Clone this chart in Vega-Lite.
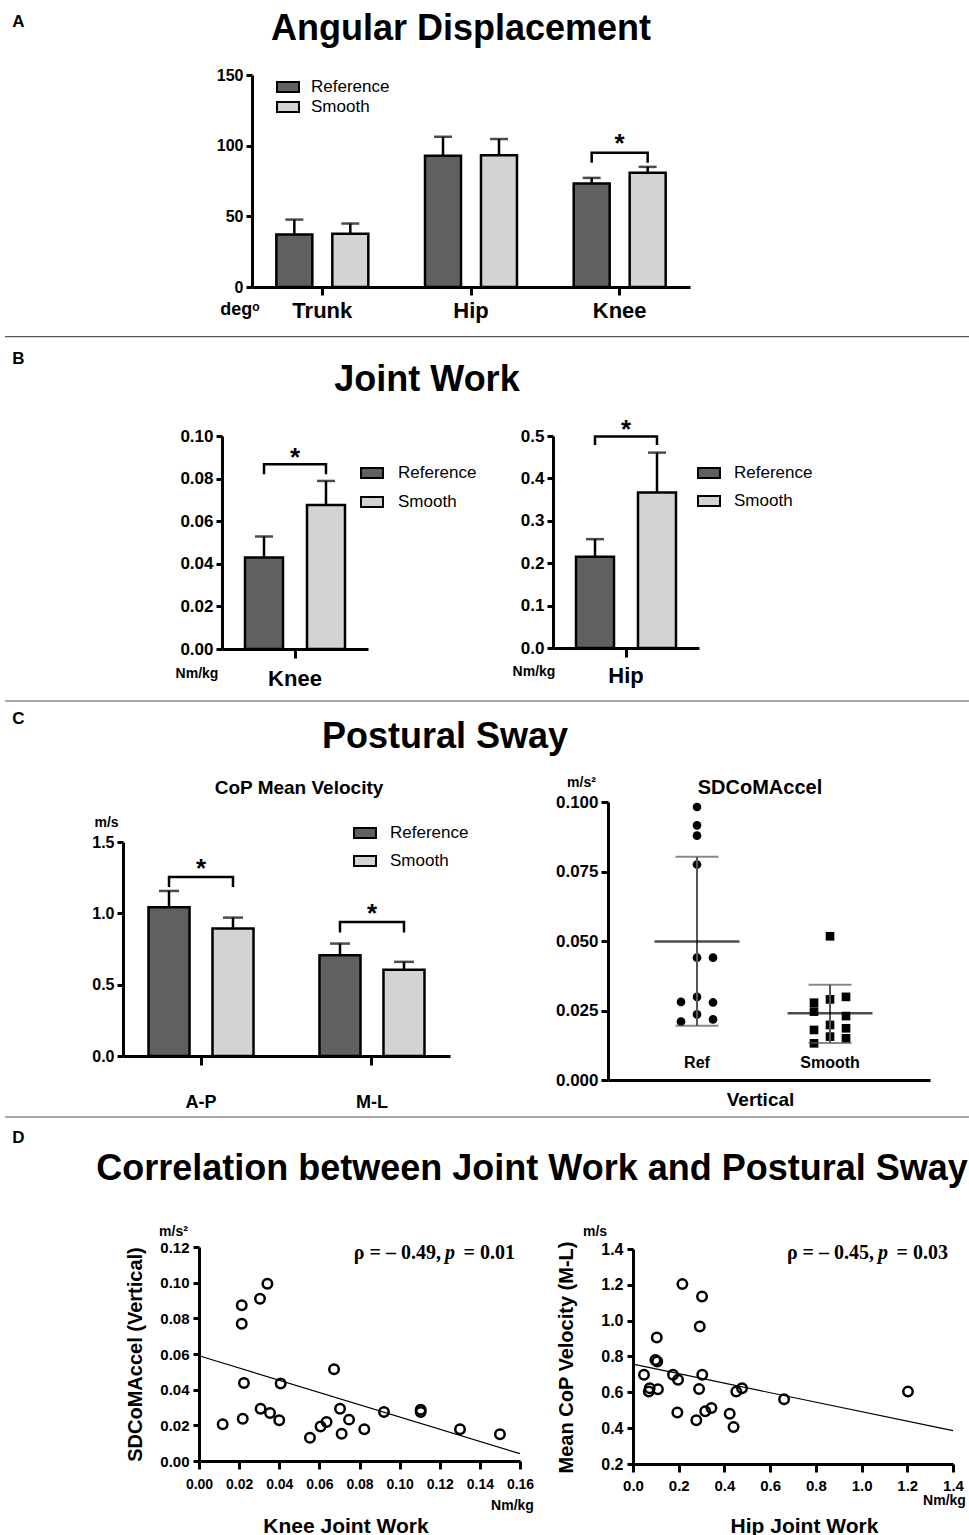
{
 "$schema": "https://vega.github.io/schema/vega-lite/v6.json",
 "background": "white",
 "padding": 0,
 "columns": 2,
 "bounds": "flush",
 "spacing": {"row": 0, "column": 0},
 "resolve": {"scale": {"fill": "independent", "shape": "independent", "xOffset": "independent"}},
 "config": {
  "font": "Liberation Sans",
  "view": {"stroke": null},
  "axis": {"grid": false, "domainColor": "black", "domainWidth": 3, "tickColor": "black", "tickWidth": 3, "tickSize": 6, "labelColor": "black", "labelFont": "Liberation Sans", "labelFontWeight": "bold", "titleColor": "black", "titleFont": "Liberation Sans", "titleFontWeight": "bold", "labelOverlap": false, "labelFlush": false},
  "legend": {"labelFont": "Liberation Sans", "labelFontSize": 17, "labelColor": "black", "padding": 0},
  "text": {"font": "Liberation Sans", "color": "black"}
 },
 "concat": [
  {"width": 540, "height": 75, "data": {"values": [{"letter": "A", "title": "Angular Displacement"}]},
   "layer": [
    {"mark": {"type": "text", "fontSize": 17, "fontWeight": "bold"}, "encoding": {"text": {"field": "letter"}, "x": {"datum": 0.03426, "type": "quantitative", "scale": {"domain": [0, 1]}, "axis": null}, "y": {"datum": 0.293, "type": "quantitative", "scale": {"domain": [0, 1], "reverse": true}, "axis": null}}},
    {"mark": {"type": "text", "fontSize": 36, "fontWeight": "bold"}, "encoding": {"text": {"field": "title"}, "x": {"datum": 0.8537, "type": "quantitative", "scale": {"domain": [0, 1]}, "axis": null}, "y": {"datum": 0.38, "type": "quantitative", "scale": {"domain": [0, 1], "reverse": true}, "axis": null}}}
   ]},
  {"width": 1, "height": 1, "data": {"values": []}, "mark": "point"},

  {"width": 540, "height": 212,
   "layer": [
    {"data": {"values": [
      {"joint": "Trunk", "condition": "Reference", "mean": 37.1, "upper": 47.7},
      {"joint": "Trunk", "condition": "Smooth", "mean": 37.6, "upper": 44.9},
      {"joint": "Hip", "condition": "Reference", "mean": 92.8, "upper": 106.3},
      {"joint": "Hip", "condition": "Smooth", "mean": 93.3, "upper": 104.7},
      {"joint": "Knee", "condition": "Reference", "mean": 73.2, "upper": 77.2},
      {"joint": "Knee", "condition": "Smooth", "mean": 80.8, "upper": 85.0}
     ]},
     "encoding": {
      "x": {"field": "joint", "type": "nominal", "scale": {"domain": ["Trunk", "Hip", "Knee"], "range": [252, 690], "paddingInner": 0.247, "paddingOuter": 0.0965}, "axis": {"title": null, "labelAngle": 0, "labelFontSize": 22, "labelBaseline": "middle", "labelPadding": 15, "tickSize": 8}},
      "xOffset": {"field": "condition", "type": "nominal", "scale": {"domain": ["Reference", "Smooth"], "paddingInner": 0.357, "paddingOuter": 0.1785}}
     },
     "layer": [
      {"mark": {"type": "bar", "stroke": "black", "strokeWidth": 2.5},
       "encoding": {
        "y": {"field": "mean", "type": "quantitative", "scale": {"domain": [0, 150], "nice": false}, "axis": {"offset": -252, "values": [0, 50, 100, 150], "labelFontSize": 16, "labelPadding": 3, "title": "degᵒ", "titleAngle": 0, "titleFontSize": 18, "titleX": -12.5, "titleY": 234, "titleAlign": "center", "titleBaseline": "middle"}},
        "fill": {"field": "condition", "type": "nominal", "scale": {"domain": ["Reference", "Smooth"], "range": ["#606060", "#d3d3d3"]}, "legend": {"title": null, "orient": "none", "legendX": 277, "legendY": 1, "symbolType": "M-1.1,-0.5H1.1V0.5H-1.1Z", "symbolSize": 400, "symbolStrokeColor": "black", "symbolStrokeWidth": 2, "labelOffset": 12, "rowPadding": 0, "labelFontSize": 17}}
       }},
      {"mark": {"type": "rule", "color": "black", "strokeWidth": 2.5}, "encoding": {"y": {"field": "mean", "type": "quantitative"}, "y2": {"field": "upper"}}},
      {"mark": {"type": "tick", "orient": "horizontal", "color": "black", "size": 18, "thickness": 2.5}, "encoding": {"y": {"field": "upper", "type": "quantitative"}}}
     ]},
    {"data": {"values": [
      {"joint": "Knee", "condition": "Reference", "y": 88, "o": 1},
      {"joint": "Knee", "condition": "Reference", "y": 95, "o": 2},
      {"joint": "Knee", "condition": "Smooth", "y": 95, "o": 3},
      {"joint": "Knee", "condition": "Smooth", "y": 88, "o": 4}
     ]},
     "mark": {"type": "line", "color": "black", "strokeWidth": 2.5},
     "encoding": {"x": {"field": "joint", "type": "nominal"}, "xOffset": {"field": "condition", "type": "nominal"}, "y": {"field": "y", "type": "quantitative"}, "order": {"field": "o"}}},
    {"data": {"values": [{"joint": "Knee", "sig": "*", "y": 101.4}]},
     "mark": {"type": "text", "fontSize": 26, "fontWeight": "bold"},
     "encoding": {"x": {"field": "joint", "type": "nominal"}, "y": {"field": "y", "type": "quantitative"}, "text": {"field": "sig"}}}
   ]},
  {"width": 1, "height": 1, "data": {"values": []}, "mark": "point"},

  {"width": 540, "height": 149, "data": {"values": [{"letter": "B", "title": "Joint Work"}]},
   "layer": [
    {"mark": {"type": "rule", "color": "#555555", "strokeWidth": 1.2}, "encoding": {"x": {"datum": 0.00926, "type": "quantitative", "scale": {"domain": [0, 1]}, "axis": null}, "x2": {"datum": 1.7944}, "y": {"datum": 0.3336, "type": "quantitative", "scale": {"domain": [0, 1], "reverse": true}, "axis": null}}},
    {"mark": {"type": "text", "fontSize": 17, "fontWeight": "bold"}, "encoding": {"text": {"field": "letter"}, "x": {"datum": 0.03426, "type": "quantitative", "scale": {"domain": [0, 1]}, "axis": null}, "y": {"datum": 0.48, "type": "quantitative", "scale": {"domain": [0, 1], "reverse": true}, "axis": null}}},
    {"mark": {"type": "text", "fontSize": 36, "fontWeight": "bold"}, "encoding": {"text": {"field": "title"}, "x": {"datum": 0.7907, "type": "quantitative", "scale": {"domain": [0, 1]}, "axis": null}, "y": {"datum": 0.624, "type": "quantitative", "scale": {"domain": [0, 1], "reverse": true}, "axis": null}}}
   ]},
  {"width": 1, "height": 1, "data": {"values": []}, "mark": "point"},

  {"width": 540, "height": 213,
   "layer": [
    {"data": {"values": [
      {"joint": "Knee", "condition": "Reference", "mean": 0.043, "upper": 0.0528},
      {"joint": "Knee", "condition": "Smooth", "mean": 0.0676, "upper": 0.0789}
     ]},
     "encoding": {
      "x": {"field": "joint", "type": "nominal", "scale": {"domain": ["Knee"], "range": [222, 368], "paddingInner": 0, "paddingOuter": 0}, "axis": {"title": null, "labelAngle": 0, "labelFontSize": 22, "labelBaseline": "middle", "labelPadding": 20, "tickSize": 9}},
      "xOffset": {"field": "condition", "type": "nominal", "scale": {"domain": ["Reference", "Smooth"], "paddingInner": 0.387, "paddingOuter": 0.371}}
     },
     "layer": [
      {"mark": {"type": "bar", "stroke": "black", "strokeWidth": 2.5},
       "encoding": {
        "y": {"field": "mean", "type": "quantitative", "scale": {"domain": [0, 0.1], "nice": false}, "axis": {"offset": -222, "values": [0, 0.02, 0.04, 0.06, 0.08, 0.1], "format": ".2f", "labelFontSize": 17, "labelPadding": 3, "title": "Nm/kg", "titleAngle": 0, "titleFontSize": 14, "titleX": -25.5, "titleY": 237, "titleAlign": "center", "titleBaseline": "middle"}},
        "fill": {"field": "condition", "type": "nominal", "scale": {"domain": ["Reference", "Smooth"], "range": ["#606060", "#d3d3d3"]}, "legend": {"title": null, "orient": "none", "legendX": 361, "legendY": 26, "symbolType": "M-1.1,-0.5H1.1V0.5H-1.1Z", "symbolSize": 400, "symbolStrokeColor": "black", "symbolStrokeWidth": 2, "labelOffset": 15, "rowPadding": 9, "labelFontSize": 17}}
       }},
      {"mark": {"type": "rule", "color": "black", "strokeWidth": 2.5}, "encoding": {"y": {"field": "mean", "type": "quantitative"}, "y2": {"field": "upper"}}},
      {"mark": {"type": "tick", "orient": "horizontal", "color": "black", "size": 18, "thickness": 2.5}, "encoding": {"y": {"field": "upper", "type": "quantitative"}}}
     ]},
    {"data": {"values": [
      {"joint": "Knee", "condition": "Reference", "y": 0.082, "o": 1},
      {"joint": "Knee", "condition": "Reference", "y": 0.0867, "o": 2},
      {"joint": "Knee", "condition": "Smooth", "y": 0.0867, "o": 3},
      {"joint": "Knee", "condition": "Smooth", "y": 0.082, "o": 4}
     ]},
     "mark": {"type": "line", "color": "black", "strokeWidth": 2.5},
     "encoding": {"x": {"field": "joint", "type": "nominal"}, "xOffset": {"field": "condition", "type": "nominal"}, "y": {"field": "y", "type": "quantitative"}, "order": {"field": "o"}}},
    {"data": {"values": [{"joint": "Knee", "sig": "*", "y": 0.0898}]},
     "mark": {"type": "text", "fontSize": 26, "fontWeight": "bold"},
     "encoding": {"x": {"field": "joint", "type": "nominal"}, "y": {"field": "y", "type": "quantitative"}, "text": {"field": "sig"}}}
   ]},
  {"width": 424, "height": 212,
   "layer": [
    {"data": {"values": [
      {"joint": "Hip", "condition": "Reference", "mean": 0.215, "upper": 0.2567},
      {"joint": "Hip", "condition": "Smooth", "mean": 0.367, "upper": 0.4608}
     ]},
     "encoding": {
      "x": {"field": "joint", "type": "nominal", "scale": {"domain": ["Hip"], "range": [13, 159], "paddingInner": 0, "paddingOuter": 0}, "axis": {"title": null, "labelAngle": 0, "labelFontSize": 22, "labelBaseline": "middle", "labelPadding": 18, "tickSize": 9}},
      "xOffset": {"field": "condition", "type": "nominal", "scale": {"domain": ["Reference", "Smooth"], "paddingInner": 0.387, "paddingOuter": 0.371}}
     },
     "layer": [
      {"mark": {"type": "bar", "stroke": "black", "strokeWidth": 2.5},
       "encoding": {
        "y": {"field": "mean", "type": "quantitative", "scale": {"domain": [0, 0.5], "nice": false}, "axis": {"offset": -13, "values": [0, 0.1, 0.2, 0.3, 0.4, 0.5], "format": ".1f", "labelFontSize": 17, "labelPadding": 3, "title": "Nm/kg", "titleAngle": 0, "titleFontSize": 14, "titleX": -19.5, "titleY": 235, "titleAlign": "center", "titleBaseline": "middle"}},
        "fill": {"field": "condition", "type": "nominal", "scale": {"domain": ["Reference", "Smooth"], "range": ["#606060", "#d3d3d3"]}, "legend": {"title": null, "orient": "none", "legendX": 158, "legendY": 26, "symbolType": "M-1.1,-0.5H1.1V0.5H-1.1Z", "symbolSize": 400, "symbolStrokeColor": "black", "symbolStrokeWidth": 2, "labelOffset": 14, "rowPadding": 8, "labelFontSize": 17}}
       }},
      {"mark": {"type": "rule", "color": "black", "strokeWidth": 2.5}, "encoding": {"y": {"field": "mean", "type": "quantitative"}, "y2": {"field": "upper"}}},
      {"mark": {"type": "tick", "orient": "horizontal", "color": "black", "size": 18, "thickness": 2.5}, "encoding": {"y": {"field": "upper", "type": "quantitative"}}}
     ]},
    {"data": {"values": [
      {"joint": "Hip", "condition": "Reference", "y": 0.479, "o": 1},
      {"joint": "Hip", "condition": "Reference", "y": 0.499, "o": 2},
      {"joint": "Hip", "condition": "Smooth", "y": 0.499, "o": 3},
      {"joint": "Hip", "condition": "Smooth", "y": 0.479, "o": 4}
     ]},
     "mark": {"type": "line", "color": "black", "strokeWidth": 2.5},
     "encoding": {"x": {"field": "joint", "type": "nominal"}, "xOffset": {"field": "condition", "type": "nominal"}, "y": {"field": "y", "type": "quantitative"}, "order": {"field": "o"}}},
    {"data": {"values": [{"joint": "Hip", "sig": "*", "y": 0.5149}]},
     "mark": {"type": "text", "fontSize": 26, "fontWeight": "bold"},
     "encoding": {"x": {"field": "joint", "type": "nominal"}, "y": {"field": "y", "type": "quantitative"}, "text": {"field": "sig"}}}
   ]},

  {"width": 540, "height": 153, "data": {"values": [{"letter": "C", "title": "Postural Sway", "sub1": "CoP Mean Velocity", "sub2": "SDCoMAccel"}]},
   "layer": [
    {"mark": {"type": "rule", "color": "#555555", "strokeWidth": 1.2}, "encoding": {"x": {"datum": 0.00926, "type": "quantitative", "scale": {"domain": [0, 1]}, "axis": null}, "x2": {"datum": 1.7944}, "y": {"datum": 0.3399, "type": "quantitative", "scale": {"domain": [0, 1], "reverse": true}, "axis": null}}},
    {"mark": {"type": "text", "fontSize": 17, "fontWeight": "bold"}, "encoding": {"text": {"field": "letter"}, "x": {"datum": 0.03426, "type": "quantitative", "scale": {"domain": [0, 1]}, "axis": null}, "y": {"datum": 0.4575, "type": "quantitative", "scale": {"domain": [0, 1], "reverse": true}, "axis": null}}},
    {"mark": {"type": "text", "fontSize": 36, "fontWeight": "bold"}, "encoding": {"text": {"field": "title"}, "x": {"datum": 0.8241, "type": "quantitative", "scale": {"domain": [0, 1]}, "axis": null}, "y": {"datum": 0.575, "type": "quantitative", "scale": {"domain": [0, 1], "reverse": true}, "axis": null}}},
    {"mark": {"type": "text", "fontSize": 19, "fontWeight": "bold"}, "encoding": {"text": {"field": "sub1"}, "x": {"datum": 0.5537, "type": "quantitative", "scale": {"domain": [0, 1]}, "axis": null}, "y": {"datum": 0.9085, "type": "quantitative", "scale": {"domain": [0, 1], "reverse": true}, "axis": null}}},
    {"mark": {"type": "text", "fontSize": 20, "fontWeight": "bold"}, "encoding": {"text": {"field": "sub2"}, "x": {"datum": 1.4074, "type": "quantitative", "scale": {"domain": [0, 1]}, "axis": null}, "y": {"datum": 0.9085, "type": "quantitative", "scale": {"domain": [0, 1], "reverse": true}, "axis": null}}}
   ]},
  {"width": 1, "height": 1, "data": {"values": []}, "mark": "point"},

  {"width": 540, "height": 254,
   "layer": [
    {"data": {"values": [
      {"dir": "A-P", "condition": "Reference", "mean": 1.043, "upper": 1.157},
      {"dir": "A-P", "condition": "Smooth", "mean": 0.893, "upper": 0.97},
      {"dir": "M-L", "condition": "Reference", "mean": 0.707, "upper": 0.788},
      {"dir": "M-L", "condition": "Smooth", "mean": 0.604, "upper": 0.66}
     ]},
     "encoding": {
      "x": {"field": "dir", "type": "nominal", "scale": {"domain": ["A-P", "M-L"], "range": [123, 450], "paddingInner": 0.2515, "paddingOuter": 0.082}, "axis": {"title": null, "labelAngle": 0, "labelFontSize": 18, "labelBaseline": "middle", "labelPadding": 37, "tickSize": 9}},
      "xOffset": {"field": "condition", "type": "nominal", "scale": {"domain": ["Reference", "Smooth"], "paddingInner": 0.359, "paddingOuter": 0.1795}}
     },
     "layer": [
      {"mark": {"type": "bar", "stroke": "black", "strokeWidth": 2.5},
       "encoding": {
        "y": {"field": "mean", "type": "quantitative", "scale": {"domain": [0, 1.5], "range": [254, 40], "nice": false}, "axis": {"offset": -123, "values": [0, 0.5, 1, 1.5], "format": ".1f", "labelFontSize": 16, "labelPadding": 3, "title": "m/s", "titleAngle": 0, "titleFontSize": 14, "titleX": -17, "titleY": 20.5, "titleAlign": "center", "titleBaseline": "middle"}},
        "fill": {"field": "condition", "type": "nominal", "scale": {"domain": ["Reference", "Smooth"], "range": ["#606060", "#d3d3d3"]}, "legend": {"title": null, "orient": "none", "legendX": 354, "legendY": 20, "symbolType": "M-1.1,-0.5H1.1V0.5H-1.1Z", "symbolSize": 400, "symbolStrokeColor": "black", "symbolStrokeWidth": 2, "labelOffset": 14, "rowPadding": 8, "labelFontSize": 17}}
       }},
      {"mark": {"type": "rule", "color": "black", "strokeWidth": 2.5}, "encoding": {"y": {"field": "mean", "type": "quantitative"}, "y2": {"field": "upper"}}},
      {"mark": {"type": "tick", "orient": "horizontal", "color": "black", "size": 20, "thickness": 2.5}, "encoding": {"y": {"field": "upper", "type": "quantitative"}}}
     ]},
    {"data": {"values": [
      {"dir": "A-P", "condition": "Reference", "y": 1.185, "o": 1},
      {"dir": "A-P", "condition": "Reference", "y": 1.255, "o": 2},
      {"dir": "A-P", "condition": "Smooth", "y": 1.255, "o": 3},
      {"dir": "A-P", "condition": "Smooth", "y": 1.185, "o": 4},
      {"dir": "M-L", "condition": "Reference", "y": 0.865, "o": 1},
      {"dir": "M-L", "condition": "Reference", "y": 0.94, "o": 2},
      {"dir": "M-L", "condition": "Smooth", "y": 0.94, "o": 3},
      {"dir": "M-L", "condition": "Smooth", "y": 0.865, "o": 4}
     ]},
     "mark": {"type": "line", "color": "black", "strokeWidth": 2.5},
     "encoding": {"x": {"field": "dir", "type": "nominal"}, "xOffset": {"field": "condition", "type": "nominal"}, "y": {"field": "y", "type": "quantitative"}, "detail": {"field": "dir"}, "order": {"field": "o"}}},
    {"data": {"values": [{"dir": "A-P", "sig": "*", "y": 1.311}, {"dir": "M-L", "sig": "*", "y": 0.995}]},
     "mark": {"type": "text", "fontSize": 26, "fontWeight": "bold"},
     "encoding": {"x": {"field": "dir", "type": "nominal"}, "y": {"field": "y", "type": "quantitative"}, "text": {"field": "sig"}}}
   ]},
  {"width": 424, "height": 278,
   "layer": [
    {"data": {"values": [
      {"group": "Ref", "col": -1, "value": 0.0281}, {"group": "Ref", "col": -1, "value": 0.021},
      {"group": "Ref", "col": 0, "value": 0.0982}, {"group": "Ref", "col": 0, "value": 0.0916},
      {"group": "Ref", "col": 0, "value": 0.0879}, {"group": "Ref", "col": 0, "value": 0.0775},
      {"group": "Ref", "col": 0, "value": 0.044}, {"group": "Ref", "col": 0, "value": 0.0299},
      {"group": "Ref", "col": 0, "value": 0.0236}, {"group": "Ref", "col": 1, "value": 0.044},
      {"group": "Ref", "col": 1, "value": 0.0279}, {"group": "Ref", "col": 1, "value": 0.0218},
      {"group": "Smooth", "col": -1, "value": 0.0278}, {"group": "Smooth", "col": -1, "value": 0.0246},
      {"group": "Smooth", "col": -1, "value": 0.018}, {"group": "Smooth", "col": -1, "value": 0.0132},
      {"group": "Smooth", "col": 0, "value": 0.0517}, {"group": "Smooth", "col": 0, "value": 0.029},
      {"group": "Smooth", "col": 0, "value": 0.0198}, {"group": "Smooth", "col": 0, "value": 0.0156},
      {"group": "Smooth", "col": 1, "value": 0.0299}, {"group": "Smooth", "col": 1, "value": 0.023},
      {"group": "Smooth", "col": 1, "value": 0.0186}, {"group": "Smooth", "col": 1, "value": 0.015}
     ]},
     "mark": {"type": "point", "filled": true, "color": "black", "opacity": 1, "size": 75},
     "encoding": {
      "x": {"field": "group", "type": "nominal", "scale": {"domain": ["Ref", "Smooth"], "range": [68, 390], "paddingInner": 0, "paddingOuter": 0.2105, "align": 0.402}, "axis": {"title": "Vertical", "ticks": false, "labelAngle": 0, "labelFontSize": 16, "labelBaseline": "middle", "labelPadding": -18, "titleFontSize": 19, "titleX": 220, "titleY": 19, "titleAlign": "center", "titleBaseline": "middle"}},
      "xOffset": {"field": "col", "type": "ordinal", "scale": {"type": "point", "domain": [-1, 0, 1], "range": [50.5, 82.5], "padding": 0}},
      "y": {"field": "value", "type": "quantitative", "scale": {"domain": [0, 0.1], "nice": false}, "axis": {"offset": -68, "values": [0, 0.025, 0.05, 0.075, 0.1], "format": ".3f", "labelFontSize": 17, "tickSize": 7, "labelPadding": 3, "title": "m/s²", "titleAngle": 0, "titleFontSize": 14, "titleX": -27, "titleY": -20, "titleAlign": "center", "titleBaseline": "middle"}},
      "shape": {"field": "group", "type": "nominal", "scale": {"domain": ["Ref", "Smooth"], "range": ["circle", "square"]}, "legend": null}
     }},
    {"data": {"values": [
      {"group": "Ref", "mean": 0.0498, "lo": 0.0195, "hi": 0.0803},
      {"group": "Smooth", "mean": 0.024, "lo": 0.0133, "hi": 0.0343}
     ]},
     "layer": [
      {"mark": {"type": "rule", "color": "#555555", "strokeWidth": 2}, "encoding": {"x": {"field": "group", "type": "nominal"}, "y": {"field": "lo", "type": "quantitative"}, "y2": {"field": "hi"}}},
      {"mark": {"type": "tick", "orient": "horizontal", "color": "#555555", "size": 43, "thickness": 2}, "encoding": {"x": {"field": "group", "type": "nominal"}, "y": {"field": "lo", "type": "quantitative"}}},
      {"mark": {"type": "tick", "orient": "horizontal", "color": "#555555", "size": 43, "thickness": 2}, "encoding": {"x": {"field": "group", "type": "nominal"}, "y": {"field": "hi", "type": "quantitative"}}},
      {"mark": {"type": "tick", "orient": "horizontal", "color": "black", "size": 85, "thickness": 2.5}, "encoding": {"x": {"field": "group", "type": "nominal"}, "y": {"field": "mean", "type": "quantitative"}}}
     ]}
   ]},

  {"width": 540, "height": 167, "data": {"values": [{"letter": "D", "title": "Correlation between Joint Work and Postural Sway"}]},
   "layer": [
    {"mark": {"type": "rule", "color": "#555555", "strokeWidth": 1.2}, "encoding": {"x": {"datum": 0.00926, "type": "quantitative", "scale": {"domain": [0, 1]}, "axis": null}, "x2": {"datum": 1.7944}, "y": {"datum": 0.2216, "type": "quantitative", "scale": {"domain": [0, 1], "reverse": true}, "axis": null}}},
    {"mark": {"type": "text", "fontSize": 17, "fontWeight": "bold"}, "encoding": {"text": {"field": "letter"}, "x": {"datum": 0.03426, "type": "quantitative", "scale": {"domain": [0, 1]}, "axis": null}, "y": {"datum": 0.347, "type": "quantitative", "scale": {"domain": [0, 1], "reverse": true}, "axis": null}}},
    {"mark": {"type": "text", "fontSize": 36, "fontWeight": "bold"}, "encoding": {"text": {"field": "title"}, "x": {"datum": 0.9852, "type": "quantitative", "scale": {"domain": [0, 1]}, "axis": null}, "y": {"datum": 0.533, "type": "quantitative", "scale": {"domain": [0, 1], "reverse": true}, "axis": null}}}
   ]},
  {"width": 1, "height": 1, "data": {"values": []}, "mark": "point"},

  {"width": 540, "height": 214,
   "resolve": {"axis": {"x": "independent", "y": "independent"}},
   "layer": [
    {"data": {"values": [
      {"kneeWork": 0.0118, "sdcomaccel": 0.0206}, {"kneeWork": 0.0213, "sdcomaccel": 0.0873},
      {"kneeWork": 0.0213, "sdcomaccel": 0.077}, {"kneeWork": 0.0304, "sdcomaccel": 0.091},
      {"kneeWork": 0.0341, "sdcomaccel": 0.0994}, {"kneeWork": 0.0224, "sdcomaccel": 0.0437},
      {"kneeWork": 0.0218, "sdcomaccel": 0.0237}, {"kneeWork": 0.0307, "sdcomaccel": 0.0293},
      {"kneeWork": 0.0354, "sdcomaccel": 0.0269}, {"kneeWork": 0.0407, "sdcomaccel": 0.0434},
      {"kneeWork": 0.04, "sdcomaccel": 0.0228}, {"kneeWork": 0.0553, "sdcomaccel": 0.0131},
      {"kneeWork": 0.0606, "sdcomaccel": 0.0194}, {"kneeWork": 0.0636, "sdcomaccel": 0.0219},
      {"kneeWork": 0.0673, "sdcomaccel": 0.0514}, {"kneeWork": 0.0703, "sdcomaccel": 0.0293},
      {"kneeWork": 0.0711, "sdcomaccel": 0.0153}, {"kneeWork": 0.0748, "sdcomaccel": 0.0232},
      {"kneeWork": 0.0824, "sdcomaccel": 0.0178}, {"kneeWork": 0.0922, "sdcomaccel": 0.0275},
      {"kneeWork": 0.1105, "sdcomaccel": 0.0288}, {"kneeWork": 0.1105, "sdcomaccel": 0.0275},
      {"kneeWork": 0.1301, "sdcomaccel": 0.0178}, {"kneeWork": 0.15, "sdcomaccel": 0.015}
     ]},
     "mark": {"type": "point", "filled": false, "color": "black", "strokeWidth": 2.5, "size": 90, "opacity": 1},
     "encoding": {
      "x": {"field": "kneeWork", "type": "quantitative", "scale": {"domain": [0, 0.16], "range": [199, 520], "nice": false}, "axis": {"orient": "bottom", "values": [0, 0.02, 0.04, 0.06, 0.08, 0.1, 0.12, 0.14, 0.16], "format": ".2f", "labelFontSize": 14, "tickSize": 8, "labelBaseline": "middle", "labelPadding": 15, "title": "Knee Joint Work", "titleFontSize": 21, "titleX": 345.5, "titleY": 65, "titleAlign": "center", "titleBaseline": "middle"}},
      "y": {"field": "sdcomaccel", "type": "quantitative", "scale": {"domain": [0, 0.12], "nice": false}, "axis": {"orient": "left", "offset": -199, "values": [0, 0.02, 0.04, 0.06, 0.08, 0.1, 0.12], "format": ".2f", "labelFontSize": 15, "labelPadding": 4, "title": "SDCoMAccel (Vertical)", "titleFontSize": 20, "titleAngle": -90, "titleX": -64, "titleY": 107, "titleAlign": "center", "titleBaseline": "middle"}}
     }},
    {"data": {"values": [{"kneeWork": 0, "fit": 0.059}, {"kneeWork": 0.16, "fit": 0.0041}]},
     "mark": {"type": "line", "color": "black", "strokeWidth": 1.2},
     "encoding": {
      "x": {"field": "kneeWork", "type": "quantitative", "axis": {"orient": "bottom", "title": "Nm/kg", "labels": false, "ticks": false, "domain": false, "titleFontSize": 14, "titleX": 512, "titleY": 44, "titleAlign": "center", "titleBaseline": "middle"}},
      "y": {"field": "fit", "type": "quantitative", "axis": {"orient": "left", "offset": -199, "title": "m/s²", "labels": false, "ticks": false, "domain": false, "titleFontSize": 14, "titleAngle": 0, "titleX": -26, "titleY": -16, "titleAlign": "center", "titleBaseline": "middle"}}
     }},
    {"data": {"values": [{"a": "ρ = – 0.49,", "b": "p", "c": "= 0.01"}]},
     "layer": [
      {"mark": {"type": "text", "font": "Liberation Serif", "fontWeight": "bold", "fontSize": 20, "align": "right", "baseline": "middle"}, "encoding": {"text": {"field": "a"}, "x": {"datum": 0.1206, "type": "quantitative", "axis": null}, "y": {"datum": 0.1166, "type": "quantitative", "axis": null}}},
      {"mark": {"type": "text", "font": "Liberation Serif", "fontWeight": "bold", "fontStyle": "italic", "fontSize": 20, "align": "left", "baseline": "middle"}, "encoding": {"text": {"field": "b"}, "x": {"datum": 0.1226, "type": "quantitative", "axis": null}, "y": {"datum": 0.1166, "type": "quantitative", "axis": null}}},
      {"mark": {"type": "text", "font": "Liberation Serif", "fontWeight": "bold", "fontSize": 20, "align": "right", "baseline": "middle"}, "encoding": {"text": {"field": "c"}, "x": {"datum": 0.1575, "type": "quantitative", "axis": null}, "y": {"datum": 0.1166, "type": "quantitative", "axis": null}}}
     ]}
   ]},
  {"width": 424, "height": 217,
   "resolve": {"axis": {"x": "independent", "y": "independent"}},
   "layer": [
    {"data": {"values": [
      {"hipWork": 0.048, "copVel": 0.698}, {"hipWork": 0.073, "copVel": 0.623},
      {"hipWork": 0.069, "copVel": 0.604}, {"hipWork": 0.109, "copVel": 0.617},
      {"hipWork": 0.104, "copVel": 0.906}, {"hipWork": 0.098, "copVel": 0.781},
      {"hipWork": 0.106, "copVel": 0.772}, {"hipWork": 0.216, "copVel": 1.204},
      {"hipWork": 0.175, "copVel": 0.698}, {"hipWork": 0.197, "copVel": 0.67},
      {"hipWork": 0.194, "copVel": 0.487}, {"hipWork": 0.302, "copVel": 1.135},
      {"hipWork": 0.292, "copVel": 0.968}, {"hipWork": 0.303, "copVel": 0.698},
      {"hipWork": 0.289, "copVel": 0.619}, {"hipWork": 0.277, "copVel": 0.444},
      {"hipWork": 0.316, "copVel": 0.494}, {"hipWork": 0.343, "copVel": 0.513},
      {"hipWork": 0.423, "copVel": 0.48}, {"hipWork": 0.44, "copVel": 0.406},
      {"hipWork": 0.452, "copVel": 0.604}, {"hipWork": 0.477, "copVel": 0.623},
      {"hipWork": 0.661, "copVel": 0.561}, {"hipWork": 1.203, "copVel": 0.604}
     ]},
     "mark": {"type": "point", "filled": false, "color": "black", "strokeWidth": 2.5, "size": 90, "opacity": 1},
     "encoding": {
      "x": {"field": "hipWork", "type": "quantitative", "scale": {"domain": [0, 1.4], "range": [93, 413], "nice": false}, "axis": {"orient": "bottom", "values": [0, 0.2, 0.4, 0.6, 0.8, 1, 1.2, 1.4], "format": ".1f", "labelFontSize": 15, "tickSize": 8, "labelBaseline": "middle", "labelPadding": 13, "title": "Hip Joint Work", "titleFontSize": 21, "titleX": 264, "titleY": 62, "titleAlign": "center", "titleBaseline": "middle"}},
      "y": {"field": "copVel", "type": "quantitative", "scale": {"domain": [0.2, 1.4], "nice": false, "zero": false, "range": [217, 2]}, "axis": {"orient": "left", "offset": -93, "values": [0.2, 0.4, 0.6, 0.8, 1, 1.2, 1.4], "format": ".1f", "labelFontSize": 16, "labelPadding": 4, "title": "Mean CoP Velocity (M-L)", "titleFontSize": 20, "titleAngle": -90, "titleX": -67, "titleY": 110, "titleAlign": "center", "titleBaseline": "middle"}}
     }},
    {"data": {"values": [{"hipWork": 0, "fit": 0.757}, {"hipWork": 1.4, "fit": 0.386}]},
     "mark": {"type": "line", "color": "black", "strokeWidth": 1.2},
     "encoding": {
      "x": {"field": "hipWork", "type": "quantitative", "axis": {"orient": "bottom", "title": "Nm/kg", "labels": false, "ticks": false, "domain": false, "titleFontSize": 14, "titleX": 404, "titleY": 36, "titleAlign": "center", "titleBaseline": "middle"}},
      "y": {"field": "fit", "type": "quantitative", "axis": {"orient": "left", "offset": -93, "title": "m/s", "labels": false, "ticks": false, "domain": false, "titleFontSize": 14, "titleAngle": 0, "titleX": -38.5, "titleY": -16, "titleAlign": "center", "titleBaseline": "middle"}}
     }},
    {"data": {"values": [{"a": "ρ = – 0.45,", "b": "p", "c": "= 0.03"}]},
     "layer": [
      {"mark": {"type": "text", "font": "Liberation Serif", "fontWeight": "bold", "fontSize": 20, "align": "right", "baseline": "middle"}, "encoding": {"text": {"field": "a"}, "x": {"datum": 1.0544, "type": "quantitative", "axis": null}, "y": {"datum": 1.3777, "type": "quantitative", "axis": null}}},
      {"mark": {"type": "text", "font": "Liberation Serif", "fontWeight": "bold", "fontStyle": "italic", "fontSize": 20, "align": "left", "baseline": "middle"}, "encoding": {"text": {"field": "b"}, "x": {"datum": 1.0719, "type": "quantitative", "axis": null}, "y": {"datum": 1.3777, "type": "quantitative", "axis": null}}},
      {"mark": {"type": "text", "font": "Liberation Serif", "fontWeight": "bold", "fontSize": 20, "align": "right", "baseline": "middle"}, "encoding": {"text": {"field": "c"}, "x": {"datum": 1.378, "type": "quantitative", "axis": null}, "y": {"datum": 1.3777, "type": "quantitative", "axis": null}}}
     ]}
   ]}
 ]
}
